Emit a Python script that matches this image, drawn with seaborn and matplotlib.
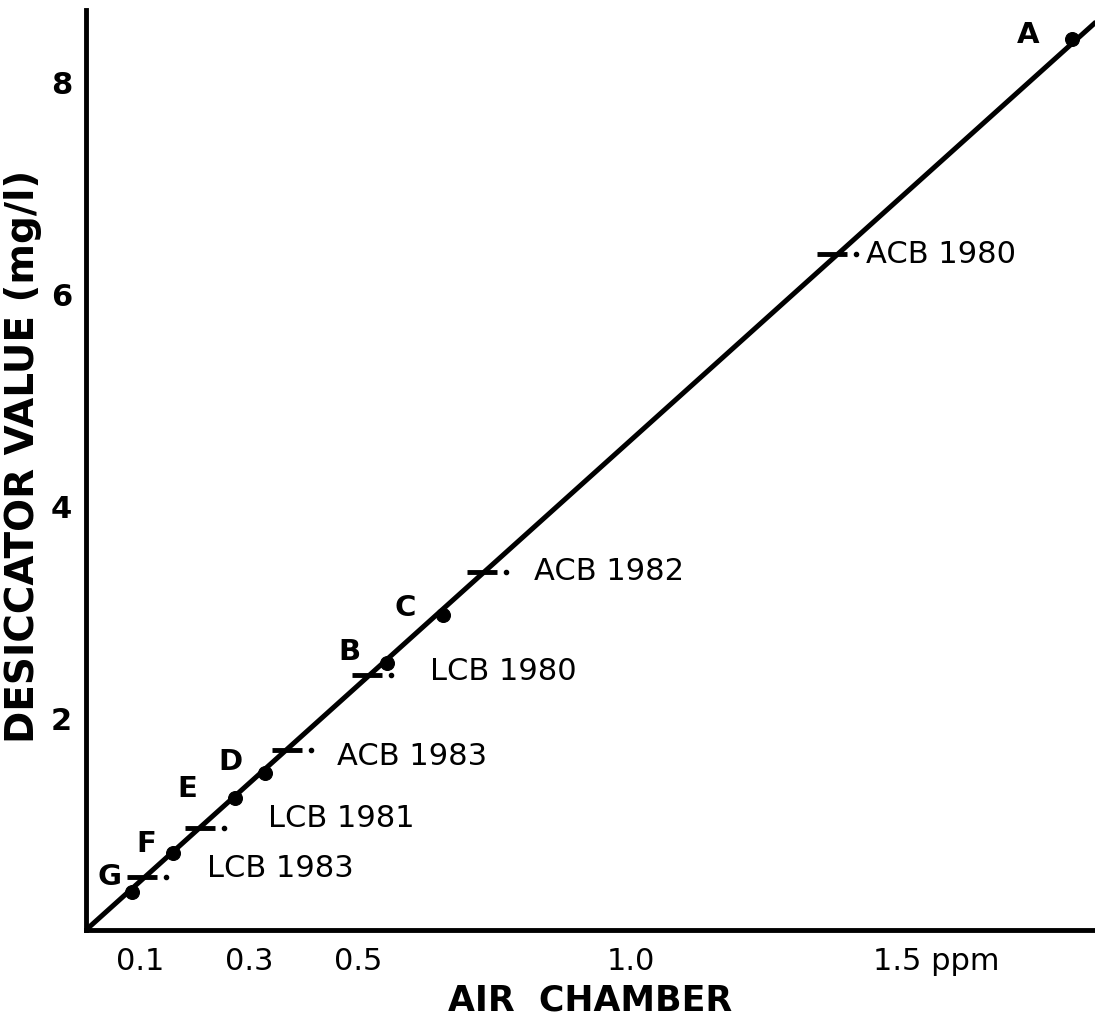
import numpy as np
import pandas as pd
import matplotlib
matplotlib.use('Agg')
import matplotlib.pyplot as plt
import matplotlib.transforms as mtransforms
import seaborn as sns

# calibration points (air chamber ppm vs desiccator mg/l)
point_names = ['A', 'B', 'C', 'D', 'E', 'F', 'G']
point_x = [1.809, 0.552, 0.655, 0.328, 0.273, 0.159, 0.084]
point_y = [8.41, 2.52, 2.97, 1.48, 1.25, 0.73, 0.36]

# years
year_names = ['ACB 1980', 'ACB 1982', 'LCB 1980', 'ACB 1983', 'LCB 1981', 'LCB 1983']
year_x = [1.369, 0.727, 0.516, 0.369, 0.209, 0.103]
year_y = [6.38, 3.38, 2.41, 1.70, 0.96, 0.50]

x_major = [0.1, 0.3, 0.5, 1.0, 1.5]
x_major_labels = ['0.1', '0.3', '0.5', '1.0', '']
x_minor = [0.2, 0.4, 0.75, 1.25, 1.75]
y_major = [2, 4, 6, 8]
y_minor = [1, 3, 5, 7]


def main():
    sns.set_theme(style='white', rc={'text.color': 'black', 'axes.labelcolor': 'black',
                                     'xtick.color': 'black', 'ytick.color': 'black'})
    plt.rcParams['font.family'] = ['DejaVu Sans']

    fig = plt.figure(figsize=(10.95, 10.23), dpi=100)
    ax = fig.add_axes([0.0785, 0.0909, 0.9215, 0.899])

    xmax, ymax = 1.851, 8.68

    pts = pd.DataFrame({'name': point_names, 'x': point_x, 'y': point_y})
    yrs = pd.DataFrame({'name': year_names, 'x': year_x, 'y': year_y})

    # line through origin fitted to the lettered points
    px, py = np.array(point_x), np.array(point_y)
    slope = (px * py).sum() / (px * px).sum()
    line = pd.DataFrame({'x': [0, xmax * 1.02], 'y': [0, slope * xmax * 1.02]})
    sns.lineplot(data=line, x='x', y='y', color='black', lw=3.6, ax=ax,
                 solid_capstyle='butt')

    sns.scatterplot(data=pts, x='x', y='y', color='black', s=100, ax=ax,
                    edgecolor='black', zorder=5)
    ax.plot(yrs['x'], yrs['y'], ls='none', marker='_', ms=22, mew=3.5,
            color='black', zorder=5)
    dot_tr = mtransforms.offset_copy(ax.transData, fig=fig, x=17, y=0, units='points')
    ax.plot(yrs['x'], yrs['y'], ls='none', marker='o', ms=3, color='black',
            transform=dot_tr)

    letter_off = [(-32, 3), (-27, 8), (-27, 5), (-25, 8), (-34, 6), (-19, 6), (-16, 11)]
    for (_, r), off in zip(pts.iterrows(), letter_off):
        ax.annotate(r['name'], (r['x'], r['y']), xytext=off, textcoords='offset points',
                    ha='center', va='center', fontsize=21, fontweight='bold')

    year_off = [(24, 0), (37, 0), (45, 2), (36, -5), (49, 7), (47, 6)]
    for (_, r), off in zip(yrs.iterrows(), year_off):
        ax.annotate(r['name'], (r['x'], r['y']), xytext=off, textcoords='offset points',
                    ha='left', va='center', fontsize=22)

    ax.set_xlim(0, xmax)
    ax.set_ylim(0, ymax)
    ax.set_xticks(x_major)
    ax.set_xticklabels(x_major_labels, fontsize=22)
    ax.set_xticks(x_minor, minor=True)
    ax.set_yticks(y_major)
    ax.set_yticklabels([str(v) for v in y_major], fontsize=22, fontweight='bold')
    ax.set_yticks(y_minor, minor=True)
    ax.tick_params(axis='both', which='both', direction='in', color='black', width=2)
    ax.tick_params(axis='x', which='major', length=16, pad=12)
    ax.tick_params(axis='x', which='minor', length=10)
    ax.tick_params(axis='y', which='both', length=14, pad=10)
    # last tick label carries the unit, set a little left of its tick
    ax.annotate('1.5 ppm', (1.5, 0), xytext=(-22, -12), textcoords='offset points',
                ha='left', va='top', fontsize=22, annotation_clip=False)

    for side in ['top', 'right']:
        ax.spines[side].set_visible(False)
    for side in ['left', 'bottom']:
        ax.spines[side].set_color('black')
        ax.spines[side].set_linewidth(3.5)

    ax.set_xlabel('AIR  CHAMBER', fontsize=25, fontweight='bold')
    ax.xaxis.set_label_coords(0.5, -0.058)
    ax.set_ylabel('DESICCATOR VALUE (mg/l)', fontsize=28, fontweight='bold')
    ax.yaxis.set_label_coords(-0.044, 0.515)

    fig.savefig('out.png', dpi=100)


if __name__ == '__main__':
    main()
